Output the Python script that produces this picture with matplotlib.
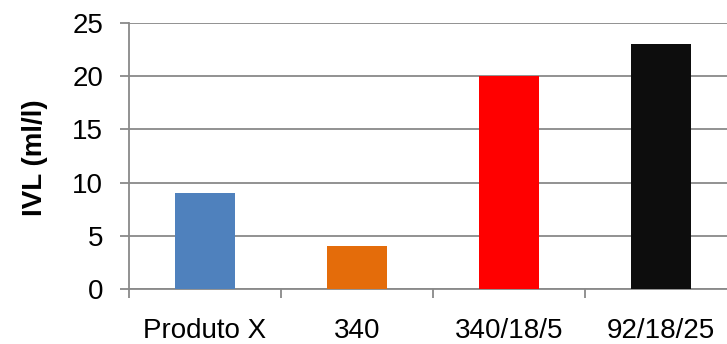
import matplotlib.pyplot as plt

plt.rcParams["font.family"] = ["Liberation Sans", "DejaVu Sans"]

# IVL per sample
categories = ["Produto X", "340", "340/18/5", "92/18/25"]
ivl_values = [9, 4, 20, 23]
bar_colors = ["#4F81BD", "#E46C0A", "#FF0000", "#0D0D0D"]

GRID = "#898989"

fig = plt.figure(figsize=(7.27, 3.44), dpi=100)
ax = fig.add_axes([129 / 727, 1 - 289 / 344, 608 / 727, 266 / 344])

x = range(len(categories))
ax.bar(x, ivl_values, width=0.4, color=bar_colors, zorder=3)

ax.set_xlim(-0.5, len(categories) - 0.5)
ax.set_ylim(0, 25)
ax.set_yticks(range(0, 26, 5))
ax.yaxis.grid(True, color=GRID, lw=1.3, zorder=0)

# category boundaries get the tick marks, centres get the labels
ax.set_xticks([i - 0.5 for i in range(len(categories))])
ax.set_xticklabels([])
ax.set_xticks(list(x), minor=True)
ax.set_xticklabels(categories, minor=True, fontsize=20)
ax.tick_params(axis="x", which="major", length=6.5, width=1.3, color=GRID, direction="out")
ax.tick_params(axis="x", which="minor", length=0, pad=21)
ax.tick_params(axis="y", length=6.5, width=1.3, color=GRID, pad=12, labelsize=20)

for side in ("top", "right"):
    ax.spines[side].set_visible(False)
for side in ("left", "bottom"):
    ax.spines[side].set_color(GRID)
    ax.spines[side].set_linewidth(1.3)

fig.text(35 / 727, 1 - 158 / 344, "IVL (ml/l)", rotation=90, ha="center", va="center",
         fontsize=20, fontweight="bold")

fig.savefig("out.png", dpi=100)
